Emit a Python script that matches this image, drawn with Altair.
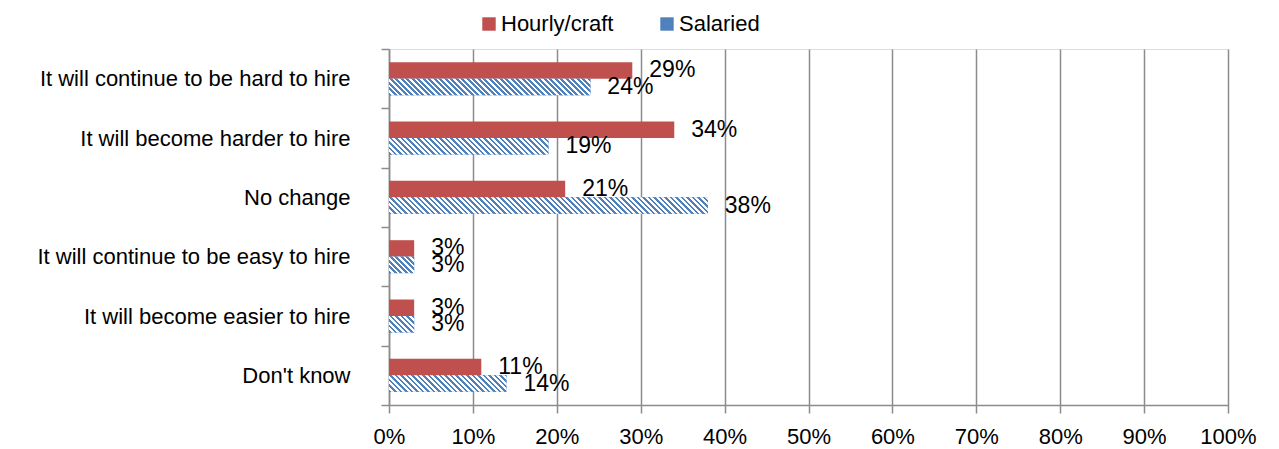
import altair as alt

# ---- data ----
categories = [
    "It will continue to be hard to hire",
    "It will become harder to hire",
    "No change",
    "It will continue to be easy to hire",
    "It will become easier to hire",
    "Don't know",
]
series = ["Hourly/craft", "Salaried"]
hourly = [29, 34, 21, 3, 3, 11]
salaried = [24, 19, 38, 3, 3, 14]
x_ticks = [0, 10, 20, 30, 40, 50, 60, 70, 80, 90, 100]

# ---- style ----
FONT = "Liberation Sans"
GRAY = "#8C8C8C"
RED = "#C0504D"
BLUE = "#4F81BD"
W_PLOT = 839
H_PLOT = 356
BAR_H = H_PLOT / len(categories) / 3.6
STRIPE = 5.5


def hatch(value):
    """Diagonal stripe fill for a bar of the given value (bounding-box gradient)."""
    w = max(value / 100.0 * W_PLOT, 1.0)
    h = BAR_H
    s = (w + h) / (w * w + h * h)
    n = (w + h) / STRIPE
    stops = []
    k = 0
    while k < n:
        a = k / n
        b = min((k + 0.5) / n, 1.0)
        c = min((k + 1.0) / n, 1.0)
        stops += [
            {"offset": a, "color": BLUE},
            {"offset": b, "color": BLUE},
            {"offset": b, "color": "#FFFFFF"},
            {"offset": c, "color": "#FFFFFF"},
        ]
        k += 1
    return {"gradient": "linear", "x1": 0, "y1": 1, "x2": s * w, "y2": 1 - s * h, "stops": stops}


records = []
for i, cat in enumerate(categories):
    records.append({"category": cat, "series": series[0], "value": hourly[i]})
    records.append({"category": cat, "series": series[1], "value": salaried[i], "hatch": hatch(salaried[i])})

base = alt.Chart(alt.Data(values=records))

x = alt.X(
    "value:Q",
    scale=alt.Scale(domain=[0, 100], nice=False),
    axis=alt.Axis(
        title=None, values=x_ticks, labelExpr="datum.value + '%'",
        grid=True, gridColor=GRAY, gridWidth=1.5,
        domainColor=GRAY, domainWidth=1.5, tickColor=GRAY, tickWidth=1.5, tickSize=8,
        labelFont=FONT, labelFontSize=22, labelColor="#000000", labelPadding=13,
        labelFlush=False, labelOverlap=False,
    ),
)
y = alt.Y(
    "category:N",
    sort=categories,
    scale=alt.Scale(domain=categories, paddingInner=0, paddingOuter=0),
    axis=alt.Axis(
        title=None, tickBand="extent", tickSize=8, tickColor=GRAY, tickWidth=1.5,
        domainColor=GRAY, domainWidth=1.5, grid=False,
        labelFont=FONT, labelFontSize=22, labelColor="#000000", labelPadding=31, labelLimit=400,
    ),
)
yoff = alt.YOffset(
    "series:N", sort=series,
    scale=alt.Scale(domain=series, paddingInner=0, paddingOuter=0.8),
)

bars = base.mark_bar().encode(
    x=x, y=y, yOffset=yoff,
    color=alt.Color(
        "series:N",
        scale=alt.Scale(domain=series, range=[RED, BLUE]),
        legend=alt.Legend(
            title=None, orient="none", legendX=89, legendY=-36, direction="horizontal",
            symbolType="square", symbolSize=180, symbolStrokeWidth=0,
            labelFont=FONT, labelFontSize=22, labelColor="#000000",
            labelOffset=1, columnPadding=42,
        ),
    ),
)

hatched = base.transform_filter("datum.series == 'Salaried'").mark_bar().encode(
    x=x, y=y, yOffset=yoff,
    fill=alt.Fill("hatch:N", scale=None, legend=None),
)

labels = base.transform_calculate(label="datum.value + '%'").mark_text(
    align="left", baseline="middle", dx=17, font=FONT, fontSize=23, color="#000000",
).encode(x=x, y=y, yOffset=yoff, text="label:N")

chart = (
    alt.layer(bars, hatched, labels)
    .properties(
        width=W_PLOT, height=H_PLOT,
        autosize=alt.AutoSizeParams(type="none"),
        padding={"left": 381, "top": 41, "right": 43, "bottom": 44},
    )
    .configure_view(stroke=None)
    .configure(background="#FFFFFF")
)

chart.save("out.html", embed_options={"renderer": "svg", "actions": False})
